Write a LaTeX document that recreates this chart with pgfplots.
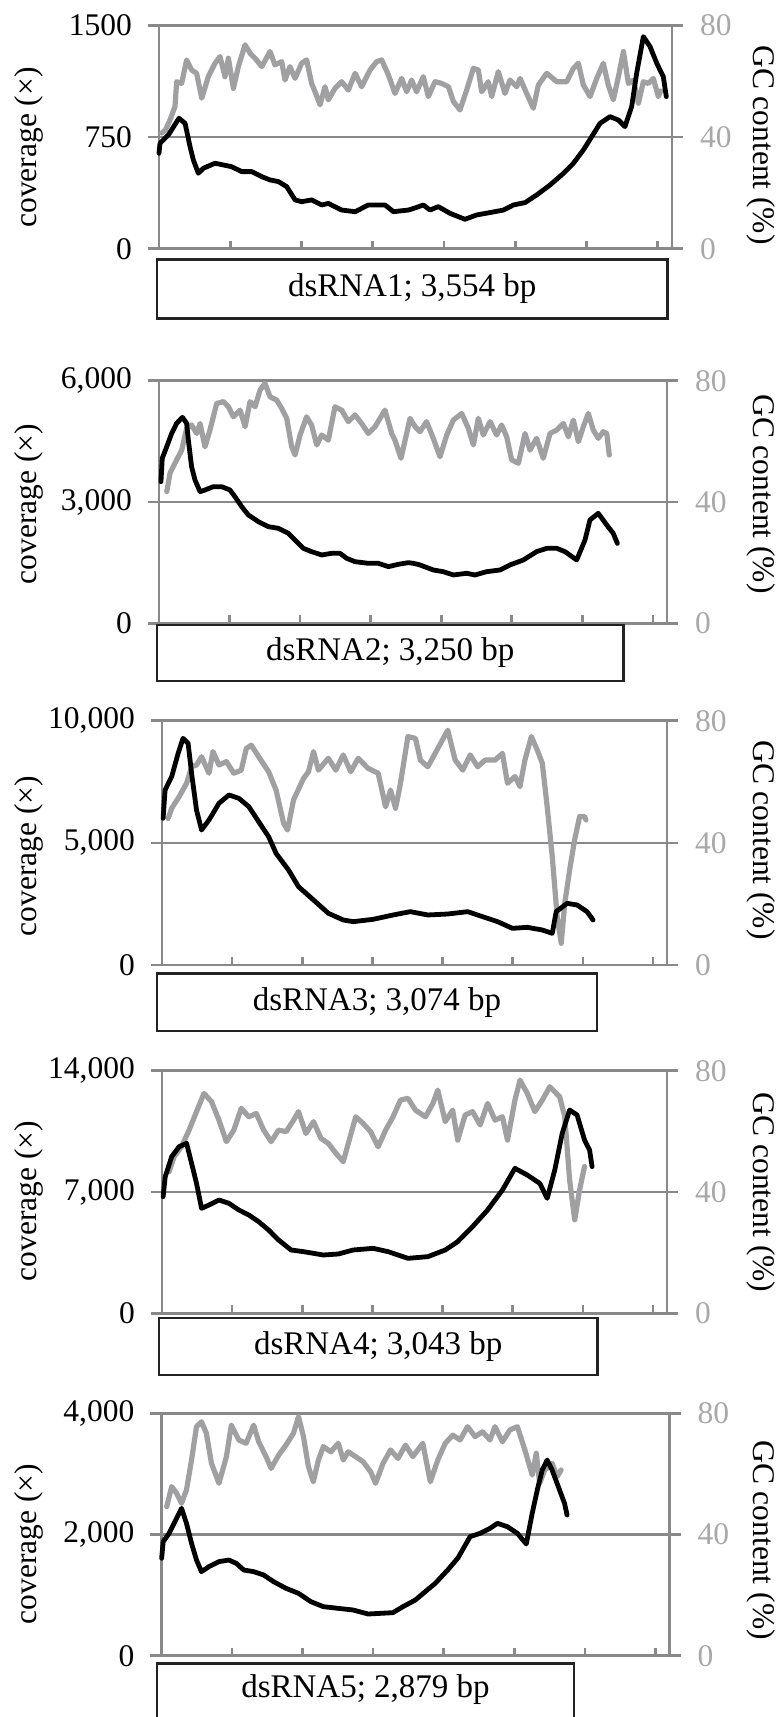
\documentclass[border=0pt]{standalone}
\usepackage{fontspec}
\setmainfont{Liberation Serif}
\usepackage{pgfplots}
\pgfplotsset{compat=1.18}

\definecolor{axgray}{RGB}{137,137,137}
\definecolor{gcgray}{RGB}{160,160,162}
\definecolor{lblgray}{RGB}{168,168,168}
\definecolor{boxline}{RGB}{35,35,35}
\newcommand\tickfont{\fontsize{31.5}{36}\selectfont}
\newcommand\boxfont{\fontsize{33}{38}\selectfont}

\pgfplotsset{
  base/.style={scale only axis, anchor=south west, xmin=0, xmax=3600, ymin=0,
    clip=false, set layers, scaled y ticks=false,
    axis line style={axgray, line width=2.6pt},
    major tick style={axgray, line width=2.6pt}, major tick length=11pt,
    tick align=outside, ticklabel style={font=\tickfont, inner sep=0pt},
    xtick=\empty},
  cov/.style={base, ytick pos=left, xtick pos=left, ymajorgrids,
    major grid style={axgray, line width=2.6pt},
    yticklabel style={xshift=-16pt},
    extra x ticks={0,500,1000,1500,2000,2500,3000,3500}, extra x tick labels={},
    extra x tick style={major tick length=8pt, tick align=inside}},
  gc/.style={base, ymax=80, ytick={0,40,80}, yticklabels={0,40,80},
    ytick pos=right, yticklabel style={lblgray, xshift=17pt}},
  cline/.style={black, line width=4.8pt, line join=round, line cap=round},
  gline/.style={gcgray, line width=5.2pt, line join=round, line cap=round},
}

\begin{document}
\begin{tikzpicture}

% ---- dsRNA1
\begin{axis}[gc, at={(159pt,1468.2pt)}, width=513pt, height=223.5pt]
\addplot[gline] coordinates {(19,41.4) (45,42.5) (77,46.1) (112,50.9) (124,59.8) (159,59.2) (194,67.6) (229,64) (264,62.8) (300,53.9) (346,61.6) (393,66.4) (428,68.8) (463,61.6) (487,68.2) (522,57.4) (557,65.2) (604,73) (639,70) (674,68.2) (721,65.2) (779,70.6) (814,65.8) (861,67) (884,60.4) (919,65.2) (955,61) (1001,66.4) (1036,67.6) (1071,59.2) (1095,56.2) (1130,51.5) (1165,58) (1188,53.3) (1235,57.4) (1282,59.8) (1329,56.8) (1376,62.8) (1422,58) (1481,64) (1528,67) (1563,67.6) (1610,62.2) (1656,55.6) (1703,61) (1738,56.2) (1773,60.4) (1808,56.2) (1855,61.6) (1890,54.5) (1937,59.8) (1984,59.2) (2031,58) (2066,52.7) (2112,49.7) (2159,56.8) (2206,64.6) (2241,64) (2264,56.2) (2311,59.8) (2335,54.5) (2381,63.4) (2428,55.6) (2463,60.4) (2510,58) (2534,61) (2580,55.6) (2627,50.3) (2662,58.6) (2721,62.8) (2791,59.8) (2861,59.8) (2908,64.6) (2943,66.4) (2978,58.6) (3025,54.5) (3072,61) (3118,66.4) (3153,58.6) (3188,53.3) (3224,61.6) (3259,70.6) (3294,59.2) (3329,60.4) (3364,52.1) (3399,59.8) (3434,59.2) (3469,61) (3504,54.5) (3520,56.5)};
\end{axis}
\begin{axis}[cov, at={(159pt,1468.2pt)}, width=513pt, height=223.5pt, ymax=1500,
  ytick={0,750,1500}, yticklabels={0,750,1500}]
\addplot[cline] coordinates {(0,641) (7,708) (66,764) (140,876) (183,842) (218,685) (241,596) (276,507) (311,540) (393,574) (510,551) (580,518) (650,518) (721,484) (779,462) (838,451) (896,417) (955,328) (1001,316) (1071,328) (1142,294) (1188,305) (1282,260) (1376,249) (1469,294) (1586,294) (1645,249) (1750,260) (1800,275) (1855,294) (1902,260) (1960,283) (2042,238) (2147,198) (2229,227) (2323,243) (2417,260) (2487,294) (2569,310) (2650,361) (2744,428) (2838,506) (2908,574) (2978,663) (3037,753) (3095,842) (3165,887) (3224,864) (3270,820) (3317,954) (3352,1178) (3399,1424) (3446,1357) (3493,1245) (3539,1155) (3560,1021)};
\end{axis}

% ---- dsRNA2
\begin{axis}[gc, at={(159pt,1093.7pt)}, width=508pt, height=242.6pt]
\addplot[gline] coordinates {(55,43.4) (78,49.5) (113,52.8) (161,57.1) (196,64.3) (231,65.4) (267,62.6) (291,65.9) (326,58.2) (361,63.7) (409,72.5) (456,73.1) (492,71.4) (527,68.1) (575,70.3) (610,64.8) (645,73.1) (681,71.4) (716,76.9) (751,79.1) (787,74.7) (834,73.6) (869,70.9) (905,67.6) (940,58.2) (964,55.5) (1000,62.1) (1046,68.1) (1081,65.4) (1118,58.8) (1153,62.1) (1200,60.4) (1247,71.4) (1294,70.3) (1342,66.5) (1389,68.7) (1436,65.9) (1483,62.6) (1531,64.8) (1601,70.3) (1649,62.6) (1672,60.4) (1715,54.4) (1755,62.6) (1779,67.6) (1815,64.8) (1850,63.2) (1896,66.5) (1944,61) (1991,54.9) (2039,62.1) (2086,67) (2145,69.2) (2192,64.3) (2228,58.8) (2263,67.6) (2298,62.1) (2346,66.5) (2393,62.1) (2428,65.4) (2464,61.5) (2499,53.9) (2547,52.8) (2594,62.6) (2629,57.1) (2676,61) (2723,54.4) (2771,62.6) (2818,63.7) (2866,65.9) (2901,61.5) (2936,67) (2972,59.9) (3007,64.8) (3042,69.2) (3078,63.7) (3113,61) (3148,63.2) (3173,62.6) (3191,55.5)};
\end{axis}
\begin{axis}[cov, at={(159pt,1093.7pt)}, width=508pt, height=242.6pt, ymax=6000,
  ytick={0,3000,6000}, yticklabels={0,{3,000},{6,000}}]
\addplot[cline] coordinates {(14,3503) (23,4080) (55,4369) (90,4698) (125,4946) (166,5094) (196,4946) (208,4533) (231,3874) (255,3544) (291,3256) (326,3297) (385,3379) (444,3379) (503,3297) (538,3132) (586,2885) (633,2679) (704,2514) (774,2390) (846,2349) (917,2225) (964,2060) (1023,1854) (1081,1772) (1153,1689) (1224,1731) (1282,1731) (1330,1607) (1389,1524) (1483,1483) (1554,1483) (1626,1401) (1696,1459) (1767,1500) (1807,1480) (1850,1442) (1944,1318) (2014,1277) (2086,1195) (2180,1236) (2240,1195) (2322,1277) (2416,1318) (2487,1442) (2582,1566) (2676,1772) (2748,1854) (2818,1854) (2877,1772) (2960,1566) (3019,2060) (3054,2555) (3113,2720) (3173,2431) (3219,2225) (3248,1978)};
\end{axis}

% ---- dsRNA3
\begin{axis}[gc, at={(162pt,752pt)}, width=505pt, height=244.3pt]
\addplot[gline] coordinates {(44,48) (69,51.3) (122,55.1) (175,59.5) (211,64.9) (246,65.5) (282,68.2) (335,62.8) (363,69.9) (406,65.5) (459,66.6) (512,62.8) (565,63.8) (601,70.9) (636,72) (689,68.2) (760,63.3) (813,57.3) (867,46.4) (895,44.2) (938,54.1) (1009,61.1) (1044,63.3) (1080,69.9) (1115,63.8) (1186,67.7) (1239,63.8) (1292,68.8) (1345,63.3) (1399,67.7) (1469,64.4) (1541,62.8) (1594,51.8) (1629,57.3) (1665,51.3) (1700,59.5) (1753,74.8) (1807,74.2) (1842,67.1) (1895,64.9) (1966,70.9) (2037,76.9) (2090,67.1) (2144,63.8) (2197,68.8) (2250,64.9) (2303,67.1) (2374,67.1) (2427,69.3) (2463,59.5) (2516,61.7) (2552,58.4) (2587,67.1) (2633,74.8) (2675,70.4) (2711,66.1) (2746,51.8) (2782,35.5) (2817,15.8) (2846,7.1) (2871,20.2) (2906,31.1) (2941,40.9) (2977,48.6) (3012,48.6) (3023,47.5)};
\end{axis}
\begin{axis}[cov, at={(162pt,752pt)}, width=505pt, height=244.3pt, ymax=10000,
  ytick={0,5000,10000}, yticklabels={0,{5,000},{10,000}}]
\addplot[cline] coordinates {(8,6004) (22,7163) (69,7709) (115,8664) (150,9278) (186,9074) (211,7846) (246,6345) (282,5526) (335,5935) (406,6618) (477,6959) (548,6822) (619,6481) (689,5867) (760,5253) (813,4571) (902,3889) (973,3206) (1080,2661) (1186,2115) (1292,1842) (1363,1774) (1505,1869) (1647,2047) (1771,2183) (1895,2047) (2037,2087) (2179,2183) (2285,1979) (2392,1774) (2498,1501) (2604,1542) (2711,1433) (2782,1296) (2810,2183) (2888,2524) (2959,2456) (3030,2183) (3073,1842)};
\end{axis}

% ---- dsRNA4
\begin{axis}[gc, at={(162pt,403.7pt)}, width=505pt, height=242.6pt]
\addplot[gline] coordinates {(51,46.7) (87,51.7) (140,55) (193,60.4) (246,66.5) (299,72.5) (353,69.8) (406,63.7) (459,56.6) (512,60.4) (565,67.6) (619,64.8) (672,65.9) (725,60.4) (778,56.6) (831,60.4) (885,59.9) (938,63.7) (973,66.5) (1026,59.3) (1080,63.2) (1133,57.7) (1186,56) (1239,52.8) (1292,50) (1328,56) (1381,64.8) (1434,62.6) (1487,59.9) (1541,54.9) (1594,60.4) (1647,64.8) (1700,70.3) (1753,70.9) (1807,67) (1878,64.8) (1931,69.2) (1966,73.6) (2019,63.2) (2072,67) (2108,57.1) (2161,65.4) (2214,66.5) (2268,62.1) (2321,69.2) (2374,63.7) (2427,64.8) (2463,57.1) (2516,70.3) (2552,76.9) (2604,72.5) (2658,66.5) (2711,70.3) (2764,74.7) (2835,71.4) (2871,64.8) (2906,43.9) (2942,30.8) (2977,40.7) (3012,48.4)};
\end{axis}
\begin{axis}[cov, at={(162pt,403.7pt)}, width=505pt, height=242.6pt, ymax=14000,
  ytick={0,7000,14000}, yticklabels={0,{7,000},{14,000}}]
\addplot[cline] coordinates {(8,6731) (23,7885) (69,9039) (122,9616) (175,9808) (211,8654) (246,7500) (282,6057) (335,6250) (406,6538) (477,6346) (548,5961) (619,5673) (689,5288) (760,4807) (831,4230) (920,3653) (1009,3557) (1150,3364) (1257,3422) (1363,3653) (1505,3749) (1612,3557) (1753,3172) (1895,3268) (2019,3653) (2108,4134) (2214,5000) (2321,5961) (2427,7115) (2516,8365) (2604,7981) (2693,7500) (2746,6634) (2800,8269) (2853,10386) (2906,11732) (2959,11444) (3012,10001) (3048,9424) (3066,8462)};
\end{axis}

% ---- dsRNA5
\begin{axis}[gc, at={(161.5pt,61.3pt)}, width=508pt, height=242.4pt]
\addplot[gline] coordinates {(37,49.2) (72,55.8) (107,53.6) (142,50.3) (177,54.7) (213,64.6) (248,75.6) (283,77.2) (318,73.4) (354,63.5) (407,56.9) (460,65.7) (495,76.1) (548,71.2) (600,70.1) (653,76.1) (689,70.6) (741,65.7) (777,61.8) (830,66.2) (882,69.5) (935,73.4) (971,78.9) (1006,72.3) (1041,62.4) (1076,57.4) (1112,64.6) (1147,69) (1200,67.3) (1253,70.1) (1288,64.6) (1323,67.3) (1376,65.7) (1429,64) (1482,60.7) (1517,56.9) (1570,63.5) (1623,67.9) (1676,65.1) (1729,69.5) (1781,65.7) (1852,70.1) (1905,57.4) (1958,64.6) (2011,70.1) (2064,72.8) (2116,71.2) (2169,75.6) (2222,72.3) (2275,73.9) (2328,71.2) (2363,75.6) (2416,70.6) (2469,74.5) (2522,75.6) (2575,67.9) (2627,59.6) (2656,66.8) (2680,56.9) (2716,61.3) (2768,63.5) (2804,59.1) (2832,61.3)};
\end{axis}
\begin{axis}[cov, at={(161.5pt,61.3pt)}, width=508pt, height=242.4pt, ymax=4000,
  ytick={0,2000,4000}, yticklabels={0,{2,000},{4,000}}]
\addplot[cline] coordinates {(1,1607) (12,1882) (54,2019) (107,2267) (142,2432) (177,2184) (213,1854) (248,1579) (283,1387) (336,1469) (407,1552) (477,1579) (530,1524) (583,1414) (653,1387) (724,1332) (794,1222) (882,1112) (971,1029) (1059,891) (1147,809) (1253,781) (1358,754) (1464,688) (1552,699) (1640,710) (1711,809) (1799,919) (1869,1057) (1940,1194) (2028,1414) (2099,1607) (2187,1964) (2257,2019) (2328,2102) (2381,2184) (2451,2129) (2522,2019) (2585,1843) (2627,2349) (2663,2734) (2698,3064) (2733,3229) (2768,3064) (2821,2734) (2856,2514) (2874,2322)};
\end{axis}

% axis titles
\foreach \y in {1569.5,1213,861,516,173}
  \node[rotate=90, font=\tickfont, inner sep=0pt] at (29pt,\y pt) {coverage (×)};
\foreach \y in {1572,1223,877,524.5,177}
  \node[rotate=-90, font=\tickfont, inner sep=0pt] at (761.5pt,\y pt) {GC content (\%)};

% length boxes
\draw[boxline, line width=2.5pt, fill=white] (157pt,1398.7pt) rectangle (667.5pt,1457.7pt);
\node[font=\boxfont] at (412.25pt,1428.2pt) {dsRNA1; 3,554 bp};
\draw[boxline, line width=2.5pt, fill=white] (157pt,1036pt) rectangle (623.5pt,1092pt);
\node[font=\boxfont] at (390.25pt,1064pt) {dsRNA2; 3,250 bp};
\draw[boxline, line width=2.5pt, fill=white] (157pt,686pt) rectangle (597pt,743.7pt);
\node[font=\boxfont] at (377pt,714.85pt) {dsRNA3; 3,074 bp};
\draw[boxline, line width=2.5pt, fill=white] (159pt,342pt) rectangle (597.5pt,399pt);
\node[font=\boxfont] at (378.25pt,370.5pt) {dsRNA4; 3,043 bp};
\draw[boxline, line width=2.5pt, fill=white] (157pt,-3.3pt) rectangle (574pt,53.7pt);
\node[font=\boxfont] at (365.5pt,27pt) {dsRNA5; 2,879 bp};

\pgfresetboundingbox
\path[use as bounding box] (0pt,0pt) rectangle (780pt,1717pt);
\end{tikzpicture}
\end{document}
